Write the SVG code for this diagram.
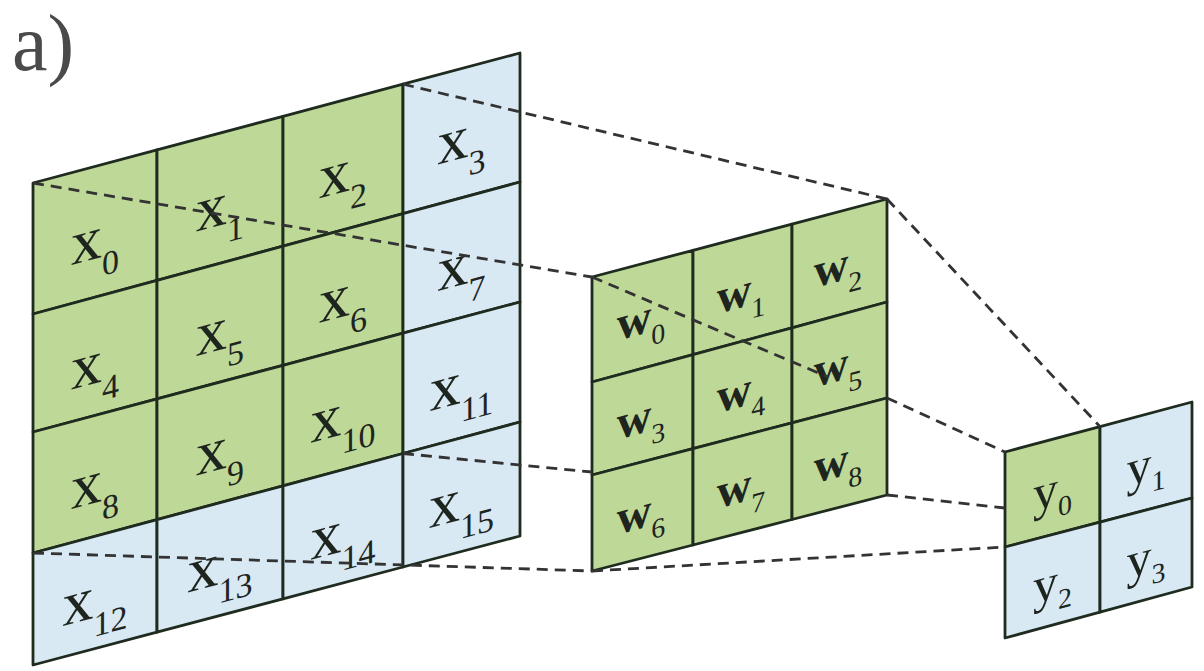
<svg xmlns="http://www.w3.org/2000/svg" width="1204" height="671" viewBox="0 0 1204 671">
<style>
.g{fill:#bdd897;stroke:#1f2b1f;stroke-width:2.8;stroke-linejoin:round}
.b{fill:#d8e9f3;stroke:#1f2b1f;stroke-width:2.8;stroke-linejoin:round}
.d{fill:none;stroke:#333;stroke-width:2.8;stroke-dasharray:11 7}
text{font-family:"Liberation Serif","Times New Roman",serif;fill:#1e241e;text-anchor:middle}
.lx{font-size:62px}
.sx{font-size:34px}
.lw{font-size:48px;font-weight:bold}
.sw{font-size:28px;font-weight:normal}
.ly{font-size:50px}
.sy{font-size:28px}
.title{font-size:80px;fill:#4a4a4a;text-anchor:start}
</style>
<rect width="1204" height="671" fill="#fff"/>
<text class="title" x="12" y="70">a)</text>
<g id="grid-x">
<g id="x0"><polygon class="g" points="33,183 157,149.9 157,280.4 33,314"/><text class="lx" transform="translate(95,258.9) skewY(-15)">x<tspan class="sx" dy="19">0</tspan></text></g>
<g id="x1"><polygon class="g" points="157,149.9 283,116.3 283,246.2 157,280.4"/><text class="lx" transform="translate(220,225.2) skewY(-15)">x<tspan class="sx" dy="19">1</tspan></text></g>
<g id="x2"><polygon class="g" points="283,116.3 403,84.2 403,213.7 283,246.2"/><text class="lx" transform="translate(343,192.1) skewY(-15)">x<tspan class="sx" dy="19">2</tspan></text></g>
<g id="x3"><polygon class="b" points="403,84.2 520,53 520,182 403,213.7"/><text class="lx" transform="translate(461.5,158.3) skewY(-15)">x<tspan class="sx" dy="19">3</tspan></text></g>
<g id="x4"><polygon class="g" points="33,314 157,280.4 157,398.9 33,432"/><text class="lx" transform="translate(95,383.4) skewY(-15)">x<tspan class="sx" dy="19">4</tspan></text></g>
<g id="x5"><polygon class="g" points="157,280.4 283,246.2 283,365.3 157,398.9"/><text class="lx" transform="translate(220,349.7) skewY(-15)">x<tspan class="sx" dy="19">5</tspan></text></g>
<g id="x6"><polygon class="g" points="283,246.2 403,213.7 403,333.2 283,365.3"/><text class="lx" transform="translate(343,316.6) skewY(-15)">x<tspan class="sx" dy="19">6</tspan></text></g>
<g id="x7"><polygon class="b" points="403,213.7 520,182 520,302 403,333.2"/><text class="lx" transform="translate(461.5,284.8) skewY(-15)">x<tspan class="sx" dy="19">7</tspan></text></g>
<g id="x8"><polygon class="g" points="33,432 157,398.9 157,519.6 33,553"/><text class="lx" transform="translate(95,502.9) skewY(-15)">x<tspan class="sx" dy="19">8</tspan></text></g>
<g id="x9"><polygon class="g" points="157,398.9 283,365.3 283,485.8 157,519.6"/><text class="lx" transform="translate(220,469.4) skewY(-15)">x<tspan class="sx" dy="19">9</tspan></text></g>
<g id="x10"><polygon class="g" points="283,365.3 403,333.2 403,453.5 283,485.8"/><text class="lx" transform="translate(343,434.4) skewY(-15)">x<tspan class="sx" dy="19">10</tspan></text></g>
<g id="x11"><polygon class="b" points="403,333.2 520,302 520,422 403,453.5"/><text class="lx" transform="translate(461.5,402.7) skewY(-15)">x<tspan class="sx" dy="19">11</tspan></text></g>
<g id="x12"><polygon class="b" points="33,553 157,519.6 157,632.2 33,665"/><text class="lx" transform="translate(95,617.5) skewY(-15)">x<tspan class="sx" dy="19">12</tspan></text></g>
<g id="x13"><polygon class="b" points="157,519.6 283,485.8 283,598.8 157,632.2"/><text class="lx" transform="translate(220,584.1) skewY(-15)">x<tspan class="sx" dy="19">13</tspan></text></g>
<g id="x14"><polygon class="b" points="283,485.8 403,453.5 403,567 283,598.8"/><text class="lx" transform="translate(343,551.3) skewY(-15)">x<tspan class="sx" dy="19">14</tspan></text></g>
<g id="x15"><polygon class="b" points="403,453.5 520,422 520,536 403,567"/><text class="lx" transform="translate(461.5,519.6) skewY(-15)">x<tspan class="sx" dy="19">15</tspan></text></g>
</g>
<g id="grid-w">
<g id="w0"><polygon class="g" points="592,277 693,250.3 693,354.6 592,382"/><text class="lw" transform="translate(641,334) skewY(-15)">w<tspan class="sw" dy="14">0</tspan></text></g>
<g id="w1"><polygon class="g" points="693,250.3 792,224.1 792,327.8 693,354.6"/><text class="lw" transform="translate(741,307.2) skewY(-15)">w<tspan class="sw" dy="14">1</tspan></text></g>
<g id="w2"><polygon class="g" points="792,224.1 887,199 887,302 792,327.8"/><text class="lw" transform="translate(838,281.3) skewY(-15)">w<tspan class="sw" dy="14">2</tspan></text></g>
<g id="w3"><polygon class="g" points="592,382 693,354.6 693,448.6 592,475"/><text class="lw" transform="translate(641,433) skewY(-15)">w<tspan class="sw" dy="14">3</tspan></text></g>
<g id="w4"><polygon class="g" points="693,354.6 792,327.8 792,422.8 693,448.6"/><text class="lw" transform="translate(741,406.5) skewY(-15)">w<tspan class="sw" dy="14">4</tspan></text></g>
<g id="w5"><polygon class="g" points="792,327.8 887,302 887,398 792,422.8"/><text class="lw" transform="translate(838,380.7) skewY(-15)">w<tspan class="sw" dy="14">5</tspan></text></g>
<g id="w6"><polygon class="g" points="592,475 693,448.6 693,545 592,571"/><text class="lw" transform="translate(641,528) skewY(-15)">w<tspan class="sw" dy="14">6</tspan></text></g>
<g id="w7"><polygon class="g" points="693,448.6 792,422.8 792,519.5 693,545"/><text class="lw" transform="translate(741,502) skewY(-15)">w<tspan class="sw" dy="14">7</tspan></text></g>
<g id="w8"><polygon class="g" points="792,422.8 887,398 887,495 792,519.5"/><text class="lw" transform="translate(838,476.8) skewY(-15)">w<tspan class="sw" dy="14">8</tspan></text></g>
</g>
<g id="grid-y">
<g id="y0"><polygon class="g" points="1005,452 1100,426.6 1100,522.1 1005,547"/><text class="ly" transform="translate(1052.5,506) skewY(-15)">y<tspan class="sy" dy="12">0</tspan></text></g>
<g id="y1"><polygon class="b" points="1100,426.6 1192,402 1192,498 1100,522.1"/><text class="ly" transform="translate(1146,481.2) skewY(-15)">y<tspan class="sy" dy="12">1</tspan></text></g>
<g id="y2"><polygon class="b" points="1005,547 1100,522.1 1100,612.1 1005,638"/><text class="ly" transform="translate(1052.5,598.8) skewY(-15)">y<tspan class="sy" dy="12">2</tspan></text></g>
<g id="y3"><polygon class="b" points="1100,522.1 1192,498 1192,587 1100,612.1"/><text class="ly" transform="translate(1146,573.8) skewY(-15)">y<tspan class="sy" dy="12">3</tspan></text></g>
</g>
<g id="connectors">
<line class="d" x1="33" y1="183" x2="592" y2="277"/>
<line class="d" x1="403" y1="84.2" x2="887" y2="199"/>
<line class="d" x1="887" y1="199" x2="1100" y2="426.6"/>
<line class="d" x1="403" y1="453.5" x2="592" y2="472"/>
<line class="d" x1="33" y1="553" x2="592" y2="571"/>
<line class="d" x1="592" y1="277" x2="828" y2="377"/>
<line class="d" x1="887" y1="398" x2="1005" y2="452"/>
<line class="d" x1="887" y1="495" x2="1005" y2="508"/>
<line class="d" x1="592" y1="571" x2="1005" y2="547"/>
</g>
</svg>
